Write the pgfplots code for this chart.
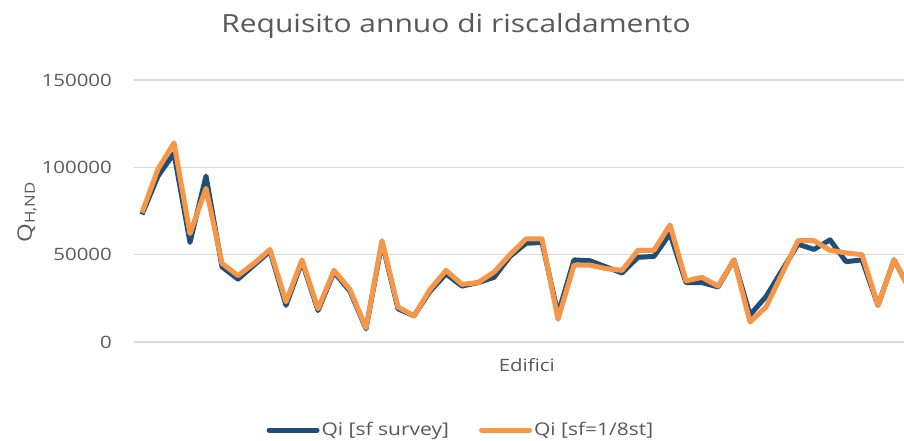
\documentclass[border=0pt]{standalone}
\usepackage{fontspec}
\setmainfont{Open Sans}[FakeStretch=1.2]
\usepackage{pgfplots}
\usepackage{pgfplotstable}
\pgfplotsset{compat=1.18}
\definecolor{qblue}{RGB}{31,78,121}
\definecolor{qorange}{RGB}{247,150,70}
\definecolor{txtgray}{RGB}{89,89,89}
\definecolor{gridgray}{RGB}{217,217,217}

\pgfplotstableread{
i blue orange
0 73000 74000
1 95000 99000
2 108000 114000
3 57000 62000
4 95000 88000
5 43000 45000
6 36000 38000
7 44000 45000
8 52000 53000
9 21000 23000
10 46000 47000
11 18000 19000
12 40000 41000
13 29000 30000
14 7500 8000
15 57000 58000
16 19000 20000
17 15000 15000
18 29000 30000
19 39000 41000
20 32000 33000
21 34000 34000
22 37000 40000
23 49000 50000
24 56500 59000
25 57000 59000
26 16000 13000
27 47000 44000
28 46500 44000
29 43000 42000
30 39500 41000
31 48500 52500
32 49000 52500
33 62000 67000
34 34000 35000
35 34000 37000
36 31500 32000
37 47000 47000
38 15500 11500
39 26000 20000
40 41000 39000
41 56000 58000
42 53000 58000
43 58500 52500
44 46000 51000
45 47000 50000
46 21000 21000
47 47000 47000
48 30000 30000
}\data

\begin{document}
\begin{tikzpicture}
\begin{axis}[
  at={(134pt,99pt)}, anchor=south west,
  scale only axis, width=784pt, height=262pt,
  xmin=-0.5, xmax=48.5, ymin=0, ymax=150000,
  ytick={0,50000,100000,150000},
  scaled y ticks=false,
  yticklabel={\pgfmathprintnumber[fixed,1000 sep={},precision=0]{\tick}},
  xtick=\empty,
  axis line style={draw=none},
  tick style={draw=none},
  ymajorgrids,
  major grid style={gridgray, line width=1.3pt},
  /pgf/number format/assume math mode=true,
  yticklabel style={font=\fontsize{17}{20}\selectfont, text=txtgray, anchor=east, inner sep=0pt, xshift=-22pt},
  ylabel={Q\textsubscript{H,ND}},
  ylabel style={at={(axis description cs:-0.1365,0.496)}, anchor=center,
    font=\fontsize{20}{24}\selectfont, text=txtgray},
  xlabel={Edifici},
  xlabel style={at={(axis description cs:0.501,-0.088)}, anchor=center,
    font=\fontsize{17}{20}\selectfont, text=txtgray},
  title={Requisito annuo di riscaldamento},
  title style={at={(axis description cs:0.4107,1.183)}, anchor=center,
    font=\fontsize{25}{28}\selectfont, text=txtgray},
  legend columns=2,
  legend style={at={(axis description cs:0.417,-0.336)}, anchor=center, draw=none,
    font=\fontsize{17.5}{20}\selectfont, text=txtgray,
    /tikz/every even column/.append style={column sep=28pt},
    nodes={inner sep=2pt}},
  legend image code/.code={\draw[#1, line width=5pt, line cap=round] (0pt,0pt) -- (48pt,0pt);},
  clip=true,
]
\addplot[qblue, line width=5pt, line join=round] table[x=i,y=blue]{\data};
\addlegendentry{Qi [sf survey]}
\addplot[qorange, line width=5pt, line join=round] table[x=i,y=orange]{\data};
\addlegendentry{Qi [sf=1/8st]}
\end{axis}
\pgfresetboundingbox
\useasboundingbox (0,0) rectangle (904pt,441pt);
\end{tikzpicture}
\end{document}
